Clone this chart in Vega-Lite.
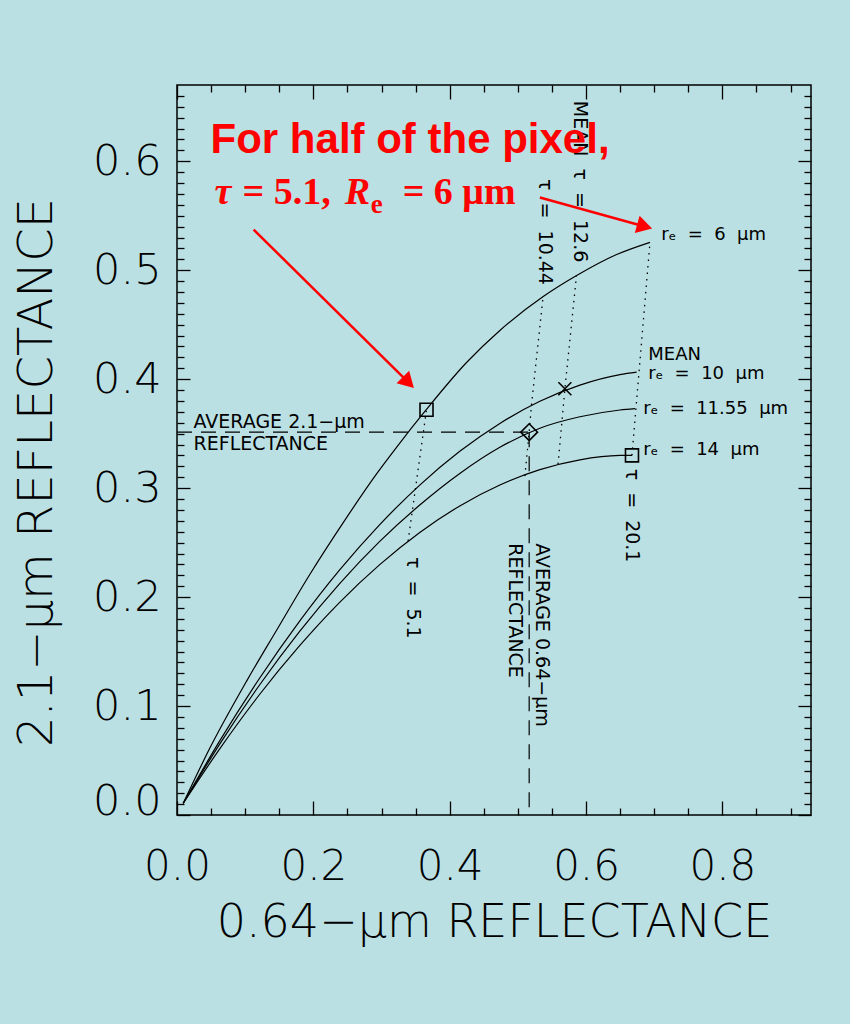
{
  "$schema": "https://vega.github.io/schema/vega-lite/v6.json",
  "width": 634,
  "height": 730,
  "autosize": "none",
  "padding": {"left": 177, "top": 85, "right": 39, "bottom": 209},
  "background": "#bbe0e3",
  "config": {
    "view": {"stroke": "black", "strokeWidth": 1.5},
    "text": {"font": "DejaVu Sans", "color": "black"}
  },
  "datasets": {
    "curves": [
      {"re": "6", "x": 0.0091, "y": 0.0107}, {"re": "6", "x": 0.0482, "y": 0.0614}, {"re": "6", "x": 0.1021, "y": 0.1229},
      {"re": "6", "x": 0.1461, "y": 0.1696}, {"re": "6", "x": 0.195, "y": 0.221}, {"re": "6", "x": 0.2441, "y": 0.2686},
      {"re": "6", "x": 0.293, "y": 0.3133}, {"re": "6", "x": 0.3223, "y": 0.3377}, {"re": "6", "x": 0.3659, "y": 0.3722},
      {"re": "6", "x": 0.4247, "y": 0.4153}, {"re": "6", "x": 0.4736, "y": 0.4447}, {"re": "6", "x": 0.5372, "y": 0.4758},
      {"re": "6", "x": 0.5862, "y": 0.4951}, {"re": "6", "x": 0.6449, "y": 0.5144}, {"re": "6", "x": 0.6938, "y": 0.5256},
      {"re": "10", "x": 0.0091, "y": 0.0107}, {"re": "10", "x": 0.0624, "y": 0.0678}, {"re": "10", "x": 0.1211, "y": 0.1255},
      {"re": "10", "x": 0.1799, "y": 0.1779}, {"re": "10", "x": 0.2386, "y": 0.2249}, {"re": "10", "x": 0.2974, "y": 0.2665},
      {"re": "10", "x": 0.3561, "y": 0.3028}, {"re": "10", "x": 0.4148, "y": 0.3338}, {"re": "10", "x": 0.4736, "y": 0.3594},
      {"re": "10", "x": 0.5323, "y": 0.3797}, {"re": "10", "x": 0.591, "y": 0.3945}, {"re": "10", "x": 0.6498, "y": 0.4041},
      {"re": "10", "x": 0.6743, "y": 0.4064},
      {"re": "11.55", "x": 0.0091, "y": 0.0107}, {"re": "11.55", "x": 0.0624, "y": 0.0648}, {"re": "11.55", "x": 0.1211, "y": 0.1193},
      {"re": "11.55", "x": 0.1799, "y": 0.1685}, {"re": "11.55", "x": 0.2386, "y": 0.2124}, {"re": "11.55", "x": 0.2974, "y": 0.2511},
      {"re": "11.55", "x": 0.3561, "y": 0.2845}, {"re": "11.55", "x": 0.4148, "y": 0.3135}, {"re": "11.55", "x": 0.4736, "y": 0.3375},
      {"re": "11.55", "x": 0.5323, "y": 0.355}, {"re": "11.55", "x": 0.591, "y": 0.3655}, {"re": "11.55", "x": 0.6498, "y": 0.3717},
      {"re": "11.55", "x": 0.6718, "y": 0.373},
      {"re": "14", "x": 0.0091, "y": 0.0107}, {"re": "14", "x": 0.0624, "y": 0.0605}, {"re": "14", "x": 0.1211, "y": 0.1106},
      {"re": "14", "x": 0.1799, "y": 0.1554}, {"re": "14", "x": 0.2386, "y": 0.1952}, {"re": "14", "x": 0.2974, "y": 0.2298},
      {"re": "14", "x": 0.3561, "y": 0.2593}, {"re": "14", "x": 0.4148, "y": 0.2837}, {"re": "14", "x": 0.4736, "y": 0.3029},
      {"re": "14", "x": 0.5323, "y": 0.317}, {"re": "14", "x": 0.591, "y": 0.326}, {"re": "14", "x": 0.6498, "y": 0.33},
      {"re": "14", "x": 0.6674, "y": 0.3301}
    ],
    "taulines": [
      {"tau": "5.1", "x": 0.366, "y": 0.372}, {"tau": "5.1", "x": 0.339, "y": 0.2515},
      {"tau": "10.44", "x": 0.537, "y": 0.4758}, {"tau": "10.44", "x": 0.5201, "y": 0.377}, {"tau": "10.44", "x": 0.5166, "y": 0.3514}, {"tau": "10.44", "x": 0.5103, "y": 0.311},
      {"tau": "12.6", "x": 0.586, "y": 0.4951}, {"tau": "12.6", "x": 0.569, "y": 0.3912}, {"tau": "12.6", "x": 0.559, "y": 0.322},
      {"tau": "20.1", "x": 0.6938, "y": 0.5256}, {"tau": "20.1", "x": 0.6674, "y": 0.3301}
    ],
    "averages": [
      {"x": 0, "y": 0.3514, "x2": 0.5166, "y2": 0.3514},
      {"x": 0.5166, "y": 0.3514, "x2": 0.5166, "y2": 0}
    ],
    "markers": [
      {"kind": "square", "x": 0.366, "y": 0.372},
      {"kind": "square", "x": 0.6674, "y": 0.3301},
      {"kind": "diamond", "x": 0.5166, "y": 0.3514},
      {"kind": "cross", "x": 0.569, "y": 0.3912}
    ],
    "labels": [
      {"text": "rₑ \u00a0= \u00a06 \u00a0μm", "x": 0.7104, "y": 0.5327},
      {"text": "MEAN", "x": 0.6913, "y": 0.4225},
      {"text": "rₑ \u00a0= \u00a010 \u00a0μm", "x": 0.6913, "y": 0.4045},
      {"text": "rₑ \u00a0= \u00a011.55 \u00a0μm", "x": 0.684, "y": 0.3729},
      {"text": "rₑ \u00a0= \u00a014 \u00a0μm", "x": 0.684, "y": 0.3347}
    ],
    "vlabels": [
      {"text": "τ \u00a0= \u00a05.1", "x": 0.3463, "y": 0.2369},
      {"text": "τ \u00a0= \u00a020.1", "x": 0.667, "y": 0.3179},
      {"text": "τ \u00a0= \u00a010.44", "x": 0.5397, "y": 0.5837},
      {"text": "MEAN \u00a0τ \u00a0= \u00a012.6", "x": 0.591, "y": 0.6555}
    ],
    "avglabels": [
      {"text": "AVERAGE 2.1−μm\nREFLECTANCE", "x": 0.0242, "y": 0.3606, "dir": "h"},
      {"text": "AVERAGE 0.64−μm\nREFLECTANCE", "x": 0.5348, "y": 0.2494, "dir": "v"}
    ],
    "arrows": [
      {"id": "a1", "x": 0.1124, "y": 0.5373, "x2": 0.3394, "y2": 0.397},
      {"id": "a2", "x": 0.5323, "y": 0.5667, "x2": 0.686, "y2": 0.5401}
    ],
    "redtext": [
      {"part": "sans", "text": "For half of the pixel,", "x": 0.0492, "y": 0.6079},
      {"part": "italic", "text": "τ", "x": 0.0551, "y": 0.5611},
      {"part": "upright", "text": "= 5.1,", "x": 0.0962, "y": 0.5611},
      {"part": "italic", "text": "R", "x": 0.246, "y": 0.5611},
      {"part": "sub", "text": "e", "x": 0.2841, "y": 0.5529},
      {"part": "upright", "text": "= 6 μm", "x": 0.3311, "y": 0.5611}
    ]
  },
  "layer": [
    {
      "data": {"name": "curves"},
      "mark": {"type": "line", "color": "black", "strokeWidth": 1.2, "interpolate": "monotone"},
      "encoding": {
        "x": {"field": "x", "type": "quantitative", "scale": {"domain": [0, 0.93], "nice": false, "zero": false},
          "axis": {"orient": "bottom", "values": [0, 0.05, 0.1, 0.15, 0.2, 0.25, 0.3, 0.35, 0.4, 0.45, 0.5, 0.55, 0.6, 0.65, 0.7, 0.75, 0.8, 0.85, 0.9],
            "domain": false, "grid": false, "tickColor": "black", "tickWidth": 1.3,
            "tickSize": {"condition": {"test": "round(datum.value*100)%20==0", "value": -14}, "value": -7},
            "labelExpr": "round(datum.value*100)%20==0 ? format(datum.value,'.1f') : ''",
            "labelFont": "DejaVu Sans", "labelFontSize": 42, "labelFontWeight": 200, "labelColor": "black", "labelPadding": 45,
            "labelFlush": false, "labelOverlap": false, "labelBound": false,
            "title": "0.64−μm REFLECTANCE", "titleFont": "DejaVu Sans", "titleFontSize": 46, "titleFontWeight": 200, "titleColor": "black", "titlePadding": 6,
            "encode": {"labels": {"update": {"stroke": {"value": "black"}, "strokeWidth": {"value": 1.4}}},
                       "title": {"update": {"stroke": {"value": "black"}, "strokeWidth": {"value": 1.4}}}}}},
        "y": {"field": "y", "type": "quantitative", "scale": {"domain": [0, 0.67], "nice": false, "zero": false},
          "axis": {"orient": "left", "values": [0, 0.01, 0.02, 0.03, 0.04, 0.05, 0.06, 0.07, 0.08, 0.09, 0.1, 0.11, 0.12, 0.13, 0.14, 0.15, 0.16, 0.17, 0.18, 0.19, 0.2, 0.21, 0.22, 0.23, 0.24, 0.25, 0.26, 0.27, 0.28, 0.29, 0.3, 0.31, 0.32, 0.33, 0.34, 0.35, 0.36, 0.37, 0.38, 0.39, 0.4, 0.41, 0.42, 0.43, 0.44, 0.45, 0.46, 0.47, 0.48, 0.49, 0.5, 0.51, 0.52, 0.53, 0.54, 0.55, 0.56, 0.57, 0.58, 0.59, 0.6, 0.61, 0.62, 0.63, 0.64, 0.65, 0.66],
            "domain": false, "grid": false, "tickColor": "black", "tickWidth": 1.3,
            "tickSize": {"condition": {"test": "round(datum.value*100)%10==0", "value": -13}, "value": -7},
            "labelExpr": "round(datum.value*100)%10==0 ? format(datum.value,'.1f') : ''",
            "labelFont": "DejaVu Sans", "labelFontSize": 43, "labelFontWeight": 200, "labelColor": "black", "labelPadding": 29,
            "labelFlush": true, "labelFlushOffset": 8, "labelOverlap": false, "labelBound": false,
            "title": "2.1−μm REFLECTANCE", "titleFont": "DejaVu Sans", "titleFontSize": 48, "titleFontWeight": 200, "titleColor": "black", "titlePadding": 31, "titleY": 387,
            "encode": {"labels": {"update": {"stroke": {"value": "black"}, "strokeWidth": {"value": 1.4}}},
                       "title": {"update": {"stroke": {"value": "black"}, "strokeWidth": {"value": 1.4}}}}}},
        "detail": {"field": "re"}
      }
    },
    {
      "data": {"name": "taulines"},
      "mark": {"type": "line", "color": "black", "strokeWidth": 1.3, "strokeDash": [1.5, 5]},
      "encoding": {
        "x": {"field": "x", "type": "quantitative", "scale": {"domain": [0, 0.93], "nice": false, "zero": false},
          "axis": {"orient": "top", "values": [0, 0.05, 0.1, 0.15, 0.2, 0.25, 0.3, 0.35, 0.4, 0.45, 0.5, 0.55, 0.6, 0.65, 0.7, 0.75, 0.8, 0.85, 0.9],
            "domain": false, "grid": false, "labels": false, "title": null, "tickColor": "black", "tickWidth": 1.3,
            "tickSize": {"condition": {"test": "round(datum.value*100)%20==0", "value": -14}, "value": -7}}},
        "y": {"field": "y", "type": "quantitative", "scale": {"domain": [0, 0.67], "nice": false, "zero": false},
          "axis": {"orient": "right", "values": [0, 0.01, 0.02, 0.03, 0.04, 0.05, 0.06, 0.07, 0.08, 0.09, 0.1, 0.11, 0.12, 0.13, 0.14, 0.15, 0.16, 0.17, 0.18, 0.19, 0.2, 0.21, 0.22, 0.23, 0.24, 0.25, 0.26, 0.27, 0.28, 0.29, 0.3, 0.31, 0.32, 0.33, 0.34, 0.35, 0.36, 0.37, 0.38, 0.39, 0.4, 0.41, 0.42, 0.43, 0.44, 0.45, 0.46, 0.47, 0.48, 0.49, 0.5, 0.51, 0.52, 0.53, 0.54, 0.55, 0.56, 0.57, 0.58, 0.59, 0.6, 0.61, 0.62, 0.63, 0.64, 0.65, 0.66],
            "domain": false, "grid": false, "labels": false, "title": null, "tickColor": "black", "tickWidth": 1.3,
            "tickSize": {"condition": {"test": "round(datum.value*100)%10==0", "value": -13}, "value": -7}}},
        "detail": {"field": "tau"}
      }
    },
    {
      "data": {"name": "averages"},
      "mark": {"type": "rule", "color": "black", "strokeWidth": 1.2, "strokeDash": [15, 9]},
      "encoding": {
        "x": {"field": "x", "type": "quantitative", "scale": {"domain": [0, 0.93], "nice": false, "zero": false}, "axis": null},
        "y": {"field": "y", "type": "quantitative", "scale": {"domain": [0, 0.67], "nice": false, "zero": false}, "axis": null},
        "x2": {"field": "x2"},
        "y2": {"field": "y2"}
      }
    },
    {
      "data": {"name": "markers"},
      "transform": [{"filter": "datum.kind == 'square'"}],
      "mark": {"type": "point", "shape": "square", "size": 169, "filled": false, "stroke": "black", "strokeWidth": 1.6, "opacity": 1},
      "encoding": {
        "x": {"field": "x", "type": "quantitative", "scale": {"domain": [0, 0.93], "nice": false, "zero": false}, "axis": null},
        "y": {"field": "y", "type": "quantitative", "scale": {"domain": [0, 0.67], "nice": false, "zero": false}, "axis": null}
      }
    },
    {
      "data": {"name": "markers"},
      "transform": [{"filter": "datum.kind == 'diamond'"}],
      "mark": {"type": "point", "shape": "diamond", "size": 280, "filled": false, "stroke": "black", "strokeWidth": 1.6, "opacity": 1},
      "encoding": {
        "x": {"field": "x", "type": "quantitative", "scale": {"domain": [0, 0.93], "nice": false, "zero": false}, "axis": null},
        "y": {"field": "y", "type": "quantitative", "scale": {"domain": [0, 0.67], "nice": false, "zero": false}, "axis": null}
      }
    },
    {
      "data": {"name": "markers"},
      "transform": [{"filter": "datum.kind == 'cross'"}],
      "mark": {"type": "point", "shape": "M-1,-1L1,1M-1,1L1,-1", "size": 169, "filled": false, "stroke": "black", "strokeWidth": 1.6, "opacity": 1},
      "encoding": {
        "x": {"field": "x", "type": "quantitative", "scale": {"domain": [0, 0.93], "nice": false, "zero": false}, "axis": null},
        "y": {"field": "y", "type": "quantitative", "scale": {"domain": [0, 0.67], "nice": false, "zero": false}, "axis": null}
      }
    },
    {
      "data": {"name": "labels"},
      "mark": {"type": "text", "align": "left", "baseline": "middle", "fontSize": 18, "font": "DejaVu Sans", "color": "black"},
      "encoding": {
        "x": {"field": "x", "type": "quantitative", "scale": {"domain": [0, 0.93], "nice": false, "zero": false}, "axis": null},
        "y": {"field": "y", "type": "quantitative", "scale": {"domain": [0, 0.67], "nice": false, "zero": false}, "axis": null},
        "text": {"field": "text"}
      }
    },
    {
      "data": {"name": "vlabels"},
      "mark": {"type": "text", "align": "left", "baseline": "middle", "angle": 90, "fontSize": 19, "font": "DejaVu Sans", "color": "black"},
      "encoding": {
        "x": {"field": "x", "type": "quantitative", "scale": {"domain": [0, 0.93], "nice": false, "zero": false}, "axis": null},
        "y": {"field": "y", "type": "quantitative", "scale": {"domain": [0, 0.67], "nice": false, "zero": false}, "axis": null},
        "text": {"field": "text"}
      }
    },
    {
      "data": {"name": "avglabels"},
      "transform": [{"filter": "datum.dir == 'h'"}],
      "mark": {"type": "text", "align": "left", "baseline": "middle", "fontSize": 19, "lineHeight": 21.5, "lineBreak": "\n", "font": "DejaVu Sans", "color": "black"},
      "encoding": {
        "x": {"field": "x", "type": "quantitative", "scale": {"domain": [0, 0.93], "nice": false, "zero": false}, "axis": null},
        "y": {"field": "y", "type": "quantitative", "scale": {"domain": [0, 0.67], "nice": false, "zero": false}, "axis": null},
        "text": {"field": "text"}
      }
    },
    {
      "data": {"name": "avglabels"},
      "transform": [{"filter": "datum.dir == 'v'"}],
      "mark": {"type": "text", "align": "left", "baseline": "middle", "angle": 90, "fontSize": 19, "lineHeight": 26.5, "lineBreak": "\n", "font": "DejaVu Sans", "color": "black"},
      "encoding": {
        "x": {"field": "x", "type": "quantitative", "scale": {"domain": [0, 0.93], "nice": false, "zero": false}, "axis": null},
        "y": {"field": "y", "type": "quantitative", "scale": {"domain": [0, 0.67], "nice": false, "zero": false}, "axis": null},
        "text": {"field": "text"}
      }
    },
    {
      "data": {"name": "arrows"},
      "mark": {"type": "rule", "color": "#ff0000", "strokeWidth": 2.5},
      "encoding": {
        "x": {"field": "x", "type": "quantitative", "scale": {"domain": [0, 0.93], "nice": false, "zero": false}, "axis": null},
        "y": {"field": "y", "type": "quantitative", "scale": {"domain": [0, 0.67], "nice": false, "zero": false}, "axis": null},
        "x2": {"field": "x2"},
        "y2": {"field": "y2"}
      }
    },
    {
      "data": {"name": "arrows"},
      "transform": [{"filter": "datum.id == 'a1'"}],
      "mark": {"type": "point", "shape": "triangle-right", "size": 320, "filled": true, "color": "#ff0000", "opacity": 1, "angle": 44.7},
      "encoding": {
        "x": {"field": "x2", "type": "quantitative", "scale": {"domain": [0, 0.93], "nice": false, "zero": false}, "axis": null},
        "y": {"field": "y2", "type": "quantitative", "scale": {"domain": [0, 0.67], "nice": false, "zero": false}, "axis": null}
      }
    },
    {
      "data": {"name": "arrows"},
      "transform": [{"filter": "datum.id == 'a2'"}],
      "mark": {"type": "point", "shape": "triangle-right", "size": 320, "filled": true, "color": "#ff0000", "opacity": 1, "angle": 15.4},
      "encoding": {
        "x": {"field": "x2", "type": "quantitative", "scale": {"domain": [0, 0.93], "nice": false, "zero": false}, "axis": null},
        "y": {"field": "y2", "type": "quantitative", "scale": {"domain": [0, 0.67], "nice": false, "zero": false}, "axis": null}
      }
    },
    {
      "data": {"name": "redtext"},
      "transform": [{"filter": "datum.part == 'sans'"}],
      "mark": {"type": "text", "align": "left", "baseline": "alphabetic", "font": "Liberation Sans", "fontSize": 42, "fontWeight": "bold", "color": "#ff0000"},
      "encoding": {
        "x": {"field": "x", "type": "quantitative", "scale": {"domain": [0, 0.93], "nice": false, "zero": false}, "axis": null},
        "y": {"field": "y", "type": "quantitative", "scale": {"domain": [0, 0.67], "nice": false, "zero": false}, "axis": null},
        "text": {"field": "text"}
      }
    },
    {
      "data": {"name": "redtext"},
      "transform": [{"filter": "datum.part == 'italic'"}],
      "mark": {"type": "text", "align": "left", "baseline": "alphabetic", "font": "Liberation Serif", "fontSize": 38, "fontWeight": "bold", "fontStyle": "italic", "color": "#ff0000"},
      "encoding": {
        "x": {"field": "x", "type": "quantitative", "scale": {"domain": [0, 0.93], "nice": false, "zero": false}, "axis": null},
        "y": {"field": "y", "type": "quantitative", "scale": {"domain": [0, 0.67], "nice": false, "zero": false}, "axis": null},
        "text": {"field": "text"}
      }
    },
    {
      "data": {"name": "redtext"},
      "transform": [{"filter": "datum.part == 'upright'"}],
      "mark": {"type": "text", "align": "left", "baseline": "alphabetic", "font": "Liberation Serif", "fontSize": 38, "fontWeight": "bold", "color": "#ff0000"},
      "encoding": {
        "x": {"field": "x", "type": "quantitative", "scale": {"domain": [0, 0.93], "nice": false, "zero": false}, "axis": null},
        "y": {"field": "y", "type": "quantitative", "scale": {"domain": [0, 0.67], "nice": false, "zero": false}, "axis": null},
        "text": {"field": "text"}
      }
    },
    {
      "data": {"name": "redtext"},
      "transform": [{"filter": "datum.part == 'sub'"}],
      "mark": {"type": "text", "align": "left", "baseline": "alphabetic", "font": "Liberation Serif", "fontSize": 27, "fontWeight": "bold", "color": "#ff0000"},
      "encoding": {
        "x": {"field": "x", "type": "quantitative", "scale": {"domain": [0, 0.93], "nice": false, "zero": false}, "axis": null},
        "y": {"field": "y", "type": "quantitative", "scale": {"domain": [0, 0.67], "nice": false, "zero": false}, "axis": null},
        "text": {"field": "text"}
      }
    }
  ],
  "resolve": {"axis": {"x": "independent", "y": "independent"}}
}
